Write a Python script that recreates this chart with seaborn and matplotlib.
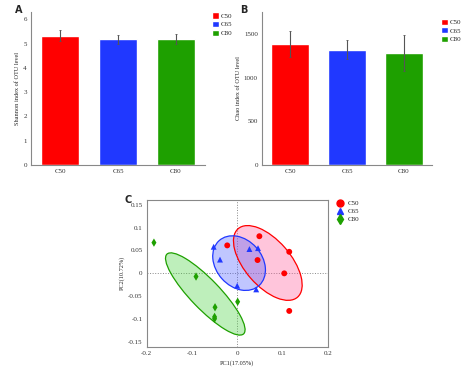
import matplotlib
matplotlib.use("Agg")
import matplotlib.pyplot as plt
from matplotlib.patches import Ellipse, Patch
from matplotlib.lines import Line2D
import numpy as np
import pandas as pd
import seaborn as sns

groups = ["C50", "C65", "C80"]
colors = ["#ff0000", "#2038ff", "#1ea000"]
fill_colors = ["#ff5a9a", "#4d5cff", "#46d23c"]

shannon_mean = [5.33, 5.18, 5.18]
shannon_err = [0.22, 0.18, 0.20]

chao_mean = [1386, 1321, 1286]
chao_err = [152, 107, 207]

pc1 = {
    "C50": [-0.022, 0.049, 0.045, 0.115, 0.104, 0.115],
    "C65": [-0.052, -0.038, 0.027, 0.046, 0.000, 0.042],
    "C80": [-0.184, -0.091, -0.049, -0.050, -0.050, 0.001],
}
pc2 = {
    "C50": [0.061, 0.081, 0.029, 0.047, 0.000, -0.082],
    "C65": [0.058, 0.030, 0.053, 0.055, -0.027, -0.035],
    "C80": [0.067, -0.007, -0.074, -0.095, -0.099, -0.062],
}

sns.set_style("white")
plt.rcParams["font.family"] = ["Liberation Serif", "DejaVu Serif"]
plt.rcParams["axes.edgecolor"] = "#888888"
plt.rcParams["xtick.color"] = "#888888"
plt.rcParams["ytick.color"] = "#888888"
plt.rcParams["xtick.labelcolor"] = "#333333"
plt.rcParams["ytick.labelcolor"] = "#333333"

fig = plt.figure(figsize=(4.74, 3.73), dpi=100)
W, H = 474, 373


def add_ax(x0, y0, x1, y1):
    return fig.add_axes([x0 / W, 1 - y1 / H, (x1 - x0) / W, (y1 - y0) / H])


def bar_panel(ax, means, errs, ylim, yticks, ylabel):
    df = pd.DataFrame({"group": groups, "value": means})
    sns.barplot(data=df, x="group", y="value", hue="group", palette=colors,
                width=0.67, ax=ax, legend=False, saturation=1)
    ax.errorbar(range(3), means, yerr=errs, fmt="none", ecolor="#555555",
                elinewidth=0.8, capsize=1, capthick=0.6)
    ax.set_xlim(-0.5, 2.5)
    ax.set_ylim(*ylim)
    ax.set_yticks(yticks)
    ax.set_xlabel("")
    ax.set_ylabel(ylabel, fontsize=4.5, labelpad=2)
    sns.despine(ax=ax)
    ax.tick_params(labelsize=5, length=2, width=0.6, pad=1)
    for s in ["left", "bottom"]:
        ax.spines[s].set_linewidth(0.8)


handles_bar = [Patch(facecolor=c, label=g) for g, c in zip(groups, colors)]

# panel A
axA = add_ax(31, 12, 205, 165)
bar_panel(axA, shannon_mean, shannon_err, (0, 6.3), range(7),
          "Shannon index of OTU level")
axA.legend(handles=handles_bar, loc="upper left", bbox_to_anchor=(1.02, 1.02),
           frameon=False, fontsize=5, handlelength=1.0, handleheight=1.0,
           handletextpad=0.3, labelspacing=0.3, borderpad=0)
fig.text(15 / W, 1 - 10 / H, "A", fontsize=7, fontweight="bold", family="DejaVu Sans",
         va="center")

# panel B
axB = add_ax(262, 12, 432, 165)
bar_panel(axB, chao_mean, chao_err, (0, 1752), [0, 500, 1000, 1500],
          "Chao index of OTU level")
axB.legend(handles=handles_bar, loc="upper left", bbox_to_anchor=(1.03, 0.98),
           frameon=False, fontsize=5, handlelength=1.0, handleheight=1.0,
           handletextpad=0.3, labelspacing=0.3, borderpad=0)
fig.text(240 / W, 1 - 10 / H, "B", fontsize=7, fontweight="bold", family="DejaVu Sans",
         va="center")

# panel C
axC = add_ax(146.7, 200, 327.7, 346.7)
pca = pd.DataFrame([
    {"group": g, "PC1": x, "PC2": y}
    for g in groups for x, y in zip(pc1[g], pc2[g])
])
axC.axhline(0, color="#888888", ls=":", lw=0.7, zorder=0)
axC.axvline(0, color="#888888", ls=":", lw=0.7, zorder=0)

for g, c, fc in zip(groups, colors, fill_colors):
    pts = np.column_stack([pc1[g], pc2[g]])
    center = pts.mean(axis=0)
    vals, vecs = np.linalg.eigh(np.cov(pts, rowvar=False))
    order = vals.argsort()[::-1]
    vals, vecs = vals[order], vecs[:, order]
    angle = np.degrees(np.arctan2(vecs[1, 0], vecs[0, 0]))
    k = 1.4
    w, h = 2 * k * np.sqrt(vals)
    axC.add_patch(Ellipse(center, w, h, angle=angle, facecolor=fc, alpha=0.35,
                          edgecolor="none", zorder=1))
    axC.add_patch(Ellipse(center, w, h, angle=angle, facecolor="none",
                          edgecolor=c, lw=0.9, zorder=2))

sns.scatterplot(data=pca, x="PC1", y="PC2", hue="group", style="group",
                palette=colors, markers=["o", "^", "d"], s=18, edgecolor="none",
                ax=axC, legend=False, zorder=3)
axC.set_xlim(-0.2, 0.2)
axC.set_ylim(-0.16, 0.16)
axC.set_xticks([-0.2, -0.1, 0, 0.1, 0.2])
axC.set_xticklabels(["-0.2", "-0.1", "0", "0.1", "0.2"])
axC.set_yticks([-0.15, -0.1, -0.05, 0, 0.05, 0.1, 0.15])
axC.set_yticklabels(["-0.15", "-0.1", "-0.05", "0", "0.05", "0.1", "0.15"])
axC.set_xlabel("PC1(17.05%)", fontsize=4.5, labelpad=3)
axC.set_ylabel("PC2(10.72%)", fontsize=4.5, labelpad=2)
axC.tick_params(labelsize=5, length=2, width=0.6, pad=1)
for s in axC.spines.values():
    s.set_linewidth(0.8)

handles_pca = [Line2D([], [], ls="none", marker=m, color=c, markersize=5, label=g)
               for g, c, m in zip(groups, colors, ["o", "^", "d"])]
axC.legend(handles=handles_pca, loc="upper left", bbox_to_anchor=(1.03, 1.02),
           frameon=False, fontsize=5, handletextpad=0.6, labelspacing=0.3,
           borderpad=0, handlelength=1.0)
fig.text(124 / W, 1 - 200 / H, "C", fontsize=7, fontweight="bold", family="DejaVu Sans",
         va="center")

fig.savefig("out.png", dpi=100)
